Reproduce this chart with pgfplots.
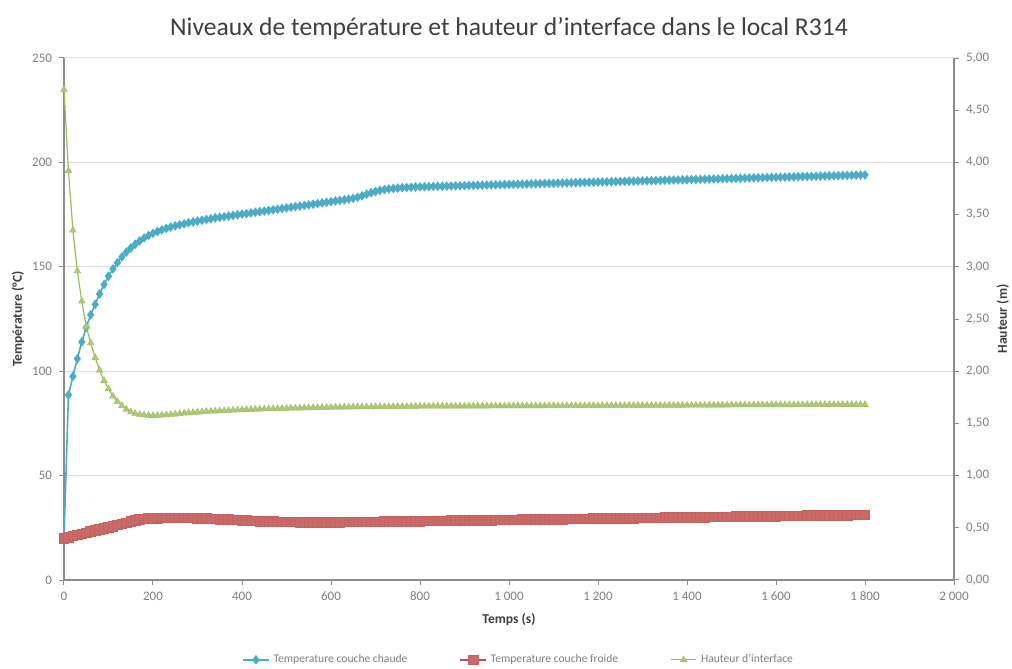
\documentclass[border=0pt]{standalone}
\usepackage{fontspec}
\setmainfont{Carlito}
\usepackage{pgfplots}
\usepackage{pgfplotstable}
\pgfplotsset{compat=1.18}
\definecolor{cBlue}{HTML}{4BACC6}
\definecolor{cRed}{HTML}{C0504D}
\definecolor{cGreen}{HTML}{9BBB59}
\definecolor{axGray}{HTML}{8C8C8C}
\definecolor{txtGray}{HTML}{7F7F7F}
\definecolor{titleGray}{HTML}{3F3F3F}

\pgfplotstableread{
t hot cold h
0 20.0 20.0 4.70
10 88.6 20.5 3.92
20 97.5 21.1 3.35
30 106.0 21.6 2.96
40 114.0 22.1 2.67
50 121.0 22.6 2.43
60 127.0 23.2 2.27
70 132.0 23.7 2.13
80 137.0 24.2 2.01
90 141.5 24.8 1.91
100 145.5 25.3 1.83
110 149.0 25.8 1.76
120 152.0 26.4 1.71
130 154.7 26.9 1.67
140 157.0 27.4 1.635
150 159.0 28.0 1.61
160 160.8 28.5 1.595
170 162.4 28.9 1.585
180 163.8 29.2 1.580
190 165.0 29.4 1.577
200 166.0 29.5 1.575
210 166.9 29.6 1.576
220 167.7 29.7 1.578
230 168.4 29.8 1.581
240 169.0 29.8 1.585
250 169.6 29.8 1.589
260 170.1 29.8 1.593
270 170.6 29.8 1.597
280 171.1 29.7 1.601
290 171.5 29.7 1.605
300 171.9 29.6 1.608
310 172.3 29.5 1.611
320 172.7 29.4 1.614
330 173.0 29.3 1.616
340 173.4 29.2 1.618
350 173.7 29.1 1.620
360 174.0 29.0 1.622
370 174.3 28.9 1.624
380 174.6 28.8 1.626
390 174.9 28.7 1.628
400 175.2 28.6 1.630
410 175.5 28.5 1.632
420 175.8 28.4 1.633
430 176.1 28.3 1.635
440 176.4 28.2 1.636
450 176.7 28.1 1.638
460 177.0 28.0 1.639
470 177.3 28.0 1.640
480 177.6 27.9 1.641
490 177.9 27.9 1.643
500 178.2 27.8 1.644
510 178.5 27.8 1.645
520 178.8 27.8 1.646
530 179.1 27.7 1.647
540 179.4 27.7 1.648
550 179.7 27.7 1.649
560 180.0 27.7 1.650
570 180.3 27.7 1.651
580 180.6 27.7 1.652
590 180.9 27.7 1.653
600 181.2 27.7 1.654
610 181.5 27.7 1.655
620 181.8 27.7 1.655
630 182.1 27.8 1.656
640 182.4 27.8 1.656
650 182.8 27.8 1.657
660 183.3 27.8 1.657
670 184.0 27.8 1.658
680 184.8 27.9 1.658
690 185.5 27.9 1.659
700 186.1 27.9 1.659
710 186.6 27.9 1.660
720 187.0 28.0 1.660
730 187.3 28.0 1.660
740 187.5 28.0 1.661
750 187.7 28.0 1.661
760 187.9 28.1 1.662
770 188.0 28.1 1.662
780 188.1 28.1 1.663
790 188.2 28.1 1.663
800 188.3 28.2 1.664
810 188.36 28.23 1.664
820 188.41 28.26 1.664
830 188.47 28.29 1.665
840 188.53 28.32 1.665
850 188.59 28.35 1.665
860 188.64 28.38 1.665
870 188.70 28.41 1.665
880 188.76 28.44 1.665
890 188.81 28.47 1.665
900 188.87 28.50 1.666
910 188.93 28.53 1.666
920 188.98 28.56 1.666
930 189.04 28.59 1.666
940 189.10 28.62 1.666
950 189.16 28.65 1.666
960 189.21 28.68 1.667
970 189.27 28.71 1.667
980 189.33 28.74 1.667
990 189.38 28.77 1.667
1000 189.44 28.80 1.667
1010 189.50 28.83 1.667
1020 189.55 28.86 1.668
1030 189.61 28.89 1.668
1040 189.67 28.92 1.668
1050 189.73 28.95 1.668
1060 189.78 28.98 1.668
1070 189.84 29.01 1.668
1080 189.90 29.04 1.668
1090 189.95 29.07 1.669
1100 190.01 29.10 1.669
1110 190.07 29.13 1.669
1120 190.12 29.16 1.669
1130 190.18 29.19 1.669
1140 190.24 29.22 1.669
1150 190.30 29.25 1.670
1160 190.35 29.28 1.670
1170 190.41 29.31 1.670
1180 190.47 29.34 1.670
1190 190.52 29.37 1.670
1200 190.58 29.40 1.670
1210 190.64 29.43 1.671
1220 190.69 29.46 1.671
1230 190.75 29.49 1.671
1240 190.81 29.52 1.671
1250 190.87 29.55 1.671
1260 190.92 29.58 1.671
1270 190.98 29.61 1.672
1280 191.04 29.64 1.672
1290 191.09 29.67 1.672
1300 191.15 29.70 1.672
1310 191.21 29.73 1.672
1320 191.26 29.76 1.672
1330 191.32 29.79 1.673
1340 191.38 29.82 1.673
1350 191.44 29.85 1.673
1360 191.49 29.88 1.673
1370 191.55 29.91 1.673
1380 191.61 29.94 1.673
1390 191.66 29.97 1.673
1400 191.72 30.00 1.674
1410 191.78 30.03 1.674
1420 191.83 30.06 1.674
1430 191.89 30.09 1.674
1440 191.95 30.12 1.674
1450 192.01 30.15 1.675
1460 192.06 30.18 1.675
1470 192.12 30.21 1.675
1480 192.18 30.24 1.675
1490 192.23 30.27 1.675
1500 192.29 30.30 1.676
1510 192.35 30.33 1.676
1520 192.40 30.36 1.676
1530 192.46 30.39 1.676
1540 192.52 30.42 1.676
1550 192.58 30.45 1.677
1560 192.63 30.48 1.677
1570 192.69 30.51 1.677
1580 192.75 30.54 1.677
1590 192.80 30.57 1.677
1600 192.86 30.60 1.678
1610 192.92 30.63 1.678
1620 192.97 30.66 1.678
1630 193.03 30.69 1.678
1640 193.09 30.72 1.678
1650 193.15 30.75 1.679
1660 193.20 30.78 1.679
1670 193.26 30.81 1.679
1680 193.32 30.84 1.679
1690 193.37 30.87 1.679
1700 193.43 30.90 1.679
1710 193.49 30.93 1.680
1720 193.54 30.96 1.680
1730 193.60 30.99 1.680
1740 193.66 31.02 1.680
1750 193.72 31.05 1.680
1760 193.77 31.08 1.680
1770 193.83 31.11 1.680
1780 193.89 31.14 1.680
1790 193.94 31.17 1.680
1800 194.00 31.20 1.680
}\data

\begin{document}
\begin{tikzpicture}
\useasboundingbox (0,0) rectangle (506pt,334.5pt);
\pgfplotsset{
  common/.style={
    at={(32pt,44.5pt)}, anchor=south west, scale only axis,
    width=445pt, height=261pt,
    xmin=0, xmax=2000, clip=false,
    axis line style={axGray, line width=0.6pt},
    tick style={axGray, line width=0.5pt},
    major tick length=2.5pt, tick align=outside,
    tick label style={font=\fontsize{6.5}{7}\selectfont, text=txtGray},
    /pgf/number format/assume math mode=true,
    label style={font=\bfseries\fontsize{6.8}{8}\selectfont, text=titleGray},
  }
}
\begin{axis}[common,
  axis x line*=bottom, axis y line*=left,
  ymin=0, ymax=250, ytick={0,50,...,250},
  xtick={0,200,...,2000},
  xticklabels={0,200,400,600,800,1~000,1~200,1~400,1~600,1~800,2~000},
  ymajorgrids, grid style={black!12, line width=0.5pt},
  title={Niveaux de température et hauteur d'interface dans le local R314},
  title style={at={(0.5,1)}, anchor=center, yshift=8.5pt,
    font=\fontsize{12.8}{14}\selectfont, text=titleGray},
  xlabel={Temps (s)},
  xlabel style={at={(axis description cs:0.5,-0.0766)}, anchor=center},
  ylabel={Température (°C)},
  ylabel style={at={(axis description cs:-0.0517,0.5)}, anchor=center},
  legend columns=3,
  legend style={at={(axis description cs:0.512,-0.153)}, anchor=center,
    draw=none, font=\fontsize{5.8}{7}\selectfont, text=txtGray,
    /tikz/every even column/.append style={column sep=24pt}},
  legend cell align=left,
  legend image code/.code={\draw[mark repeat=2,mark phase=2] plot coordinates {(0cm,0cm)(0.225cm,0cm)(0.45cm,0cm)};},
]
\addplot[cBlue, line width=0.8pt, mark=diamond*, mark size=2.1pt,
  mark options={fill=cBlue, draw=cBlue, line width=0.4pt}] table[x=t,y=hot]{\data};
\addlegendentry{Temperature couche chaude}
\addplot[cRed, line width=0.8pt, mark=square*, mark size=2.4pt,
  mark options={fill=cRed!85!white, draw=cRed!90!white, line width=0.4pt}] table[x=t,y=cold]{\data};
\addlegendentry{Temperature couche froide}
\addlegendimage{cGreen, line width=0.6pt, mark=triangle*, mark size=1.9pt,
  mark options={fill=cGreen!80!white, draw=cGreen!90!white, line width=0.3pt}}
\addlegendentry{Hauteur d'interface}
\end{axis}
\begin{axis}[common,
  axis x line=none, axis y line*=right,
  ymin=0, ymax=5, ytick={0,0.5,...,5},
  yticklabel style={/pgf/number format/.cd, fixed, fixed zerofill, precision=2, use comma},
  ylabel={Hauteur (m)},
  ylabel style={at={(axis description cs:1.055,0.5)}, anchor=center, rotate=0},
]
\addplot[cGreen, line width=0.6pt, mark=triangle*, mark size=1.9pt,
  mark options={fill=cGreen!80!white, draw=cGreen!90!white, line width=0.3pt}] table[x=t,y=h]{\data};
\end{axis}
\end{tikzpicture}
\end{document}
